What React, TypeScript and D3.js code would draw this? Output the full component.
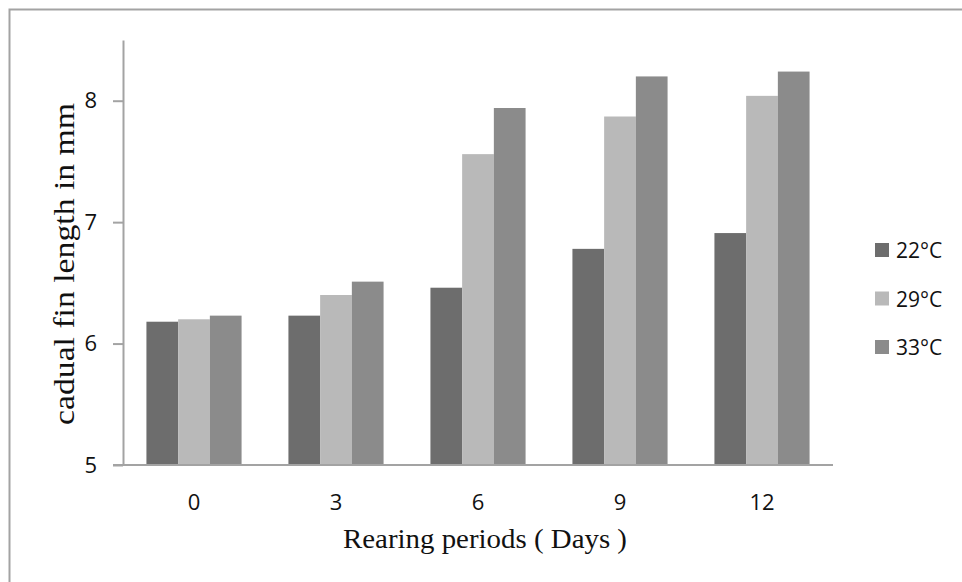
import { useEffect, useRef } from 'react';
import * as d3 from 'd3';

const days = ['0', '3', '6', '9', '12'];
const seriesNames = ['22°C', '29°C', '33°C'];
const t22 = [6.18, 6.23, 6.46, 6.78, 6.91];
const t29 = [6.2, 6.4, 7.56, 7.87, 8.04];
const t33 = [6.23, 6.51, 7.94, 8.2, 8.24];
const yTicks = [5, 6, 7, 8];
const colors = ['#6d6d6d', '#b9b9b9', '#8b8b8b'];

export default function App() {
  const svgRef = useRef<SVGSVGElement>(null);

  useEffect(() => {
    if (!svgRef.current) return;
    const W = 962;
    const H = 582;
    const plot = { left: 123, right: 833, top: 40, bottom: 465 };

    const svg = d3.select(svgRef.current).attr('width', W).attr('height', H);
    svg.selectAll('*').remove();

    // outer frame (runs past the right/bottom edge like the original)
    svg.append('rect')
      .attr('x', 9.5).attr('y', 9.5)
      .attr('width', W + 20).attr('height', H + 20)
      .attr('fill', 'white')
      .attr('stroke', '#a3a3a3')
      .attr('stroke-width', 2);

    const series = [t22, t29, t33];

    const x0 = d3.scaleBand()
      .domain(days)
      .range([plot.left, plot.right])
      .paddingInner(0.33)
      .paddingOuter(0.165);

    const x1 = d3.scaleBand()
      .domain(seriesNames)
      .range([0, x0.bandwidth()]);

    const y = d3.scaleLinear().domain([5, 8.5]).range([plot.bottom, plot.top]);

    // bars
    series.forEach((vals, si) => {
      svg.append('g')
        .selectAll('rect')
        .data(vals)
        .enter()
        .append('rect')
        .attr('x', (_, i) => (x0(days[i]) || 0) + (x1(seriesNames[si]) || 0))
        .attr('y', d => y(d))
        .attr('width', x1.bandwidth())
        .attr('height', d => y(5) - y(d))
        .attr('fill', colors[si]);
    });

    // y axis
    const yAxis = svg.append('g')
      .attr('transform', `translate(${plot.left},0)`)
      .call(d3.axisLeft(y).tickValues(yTicks).tickFormat(d3.format('d'))
        .tickSize(10).tickSizeOuter(0).tickPadding(16));
    yAxis.select('.domain').attr('stroke', '#a3a3a3').attr('stroke-width', 2);
    yAxis.selectAll('.tick line').attr('stroke', '#a3a3a3').attr('stroke-width', 2);
    yAxis.selectAll('.tick text')
      .attr('fill', '#111')
      .style('font-family', '"Open Sans", sans-serif')
      .style('font-size', '22px');

    // x axis
    const xAxis = svg.append('g')
      .attr('transform', `translate(0,${plot.bottom})`)
      .call(d3.axisBottom(x0).tickSize(0).tickSizeOuter(0).tickPadding(29));
    xAxis.select('.domain')
      .attr('d', `M${plot.left - 10},0H${plot.right}`)
      .attr('stroke', '#a3a3a3')
      .attr('stroke-width', 2);
    xAxis.selectAll('.tick text')
      .attr('fill', '#111')
      .style('font-family', '"Open Sans", sans-serif')
      .style('font-size', '22px');

    // axis titles
    svg.append('text')
      .attr('x', 485)
      .attr('y', 548)
      .attr('text-anchor', 'middle')
      .attr('textLength', 284)
      .attr('lengthAdjust', 'spacingAndGlyphs')
      .style('font-family', '"Liberation Serif", "Times New Roman", serif')
      .style('font-size', '28px')
      .attr('fill', '#111')
      .text('Rearing periods ( Days )');

    svg.append('text')
      .attr('transform', 'translate(74,264) rotate(-90)')
      .attr('text-anchor', 'middle')
      .attr('textLength', 322)
      .attr('lengthAdjust', 'spacingAndGlyphs')
      .style('font-family', '"Liberation Serif", "Times New Roman", serif')
      .style('font-size', '29px')
      .attr('fill', '#111')
      .text('cadual fin length in mm');

    // legend
    const legend = svg.append('g');
    seriesNames.forEach((name, i) => {
      const cy = 250 + i * 48.5;
      legend.append('rect')
        .attr('x', 875).attr('y', cy - 7)
        .attr('width', 14).attr('height', 14)
        .attr('fill', colors[i]);
      legend.append('text')
        .attr('x', 896).attr('y', cy + 8)
        .attr('fill', '#111')
        .style('font-family', '"Open Sans", sans-serif')
        .style('font-size', '21px')
        .text(name);
    });
  }, []);

  return (
    <div style={{ position: 'absolute', left: 0, top: 0 }}>
      <svg ref={svgRef} style={{ display: 'block' }} />
    </div>
  );
}
